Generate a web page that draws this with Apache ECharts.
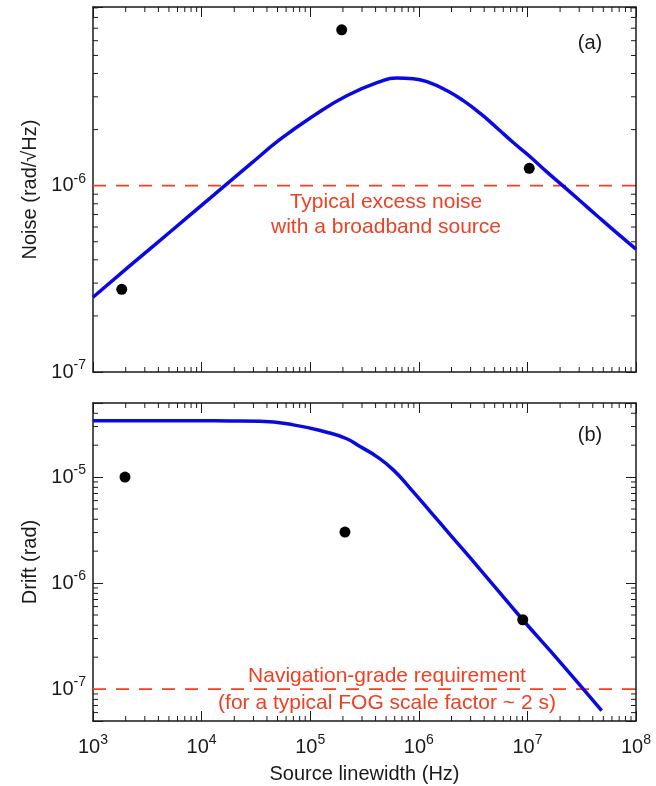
<!DOCTYPE html>
<html>
<head>
<meta charset="utf-8">
<script src="https://cdn.jsdelivr.net/npm/echarts@6/dist/echarts.min.js"></script>
<style>
html, body { margin: 0; padding: 0; background: #fff; }
#main { width: 656px; height: 786px; }
</style>
</head>
<body>
<div id="main"></div>
<script>
// (a) noise vs source linewidth
var noiseX = [1e3, 2.19e3, 5.12e3, 1.19e4, 2.79e4, 5.27e4, 1.07e5, 2.17e5, 4.4e5, 6.26e5, 8.9e5, 1.27e6, 1.81e6, 2.57e6, 3.66e6, 5.25e6, 7.36e6, 1.06e7, 1.5e7, 2.14e7, 3.05e7, 4.35e7, 6.41e7, 1e8];
var noiseY = [2.52e-7, 3.72e-7, 5.64e-7, 8.55e-7, 1.3e-6, 1.77e-6, 2.37e-6, 3.04e-6, 3.62e-6, 3.78e-6, 3.75e-6, 3.56e-6, 3.24e-6, 2.86e-6, 2.45e-6, 2.04e-6, 1.71e-6, 1.43e-6, 1.19e-6, 9.95e-7, 8.3e-7, 6.92e-7, 5.69e-7, 4.57e-7];
var noiseMeasX = [1.84e3, 1.95e5, 1.04e7];
var noiseMeasY = [2.78e-7, 6.86e-6, 1.24e-6];
var noiseLimit = 1e-6;

// (b) drift vs source linewidth
var driftX = [1e3, 3.35e3, 9.66e3, 1.83e4, 3.45e4, 6.98e4, 1.42e5, 2.17e5, 2.88e5, 4.1e5, 5.82e5, 8.29e5, 1.27e6, 1.94e6, 3.66e6, 9.06e6, 2.0e7, 4.83e7];
var driftY = [3.4e-5, 3.4e-5, 3.4e-5, 3.39e-5, 3.36e-5, 3.11e-5, 2.65e-5, 2.3e-5, 1.94e-5, 1.56e-5, 1.17e-5, 7.87e-6, 4.75e-6, 2.87e-6, 1.35e-6, 4.51e-7, 1.8e-7, 6.28e-8];
var driftMeasX = [1.97e3, 2.09e5, 9.06e6];
var driftMeasY = [1.0e-5, 3.03e-6, 4.51e-7];
var driftLimit = 1e-7;

// axis ranges
var xRange = [1e3, 1e8];
var noiseRange = [1e-7, 9.1e-6];
var driftRange = [5e-8, 5e-5];

var FONT = '"Liberation Sans", Helvetica, Arial, sans-serif';
var INK = '#1a1a1a';
var RED = '#ef4023';
var BLUE = '#0a0ae0';

function zip(a, b) {
    return a.map(function (v, i) { return [v, b[i]]; });
}

// label 10^n with superscript
function powLabel(v) {
    var e = Math.log10(v);
    if (Math.abs(e - Math.round(e)) > 1e-6) return '';
    return '{b|10}{s|' + Math.round(e) + '}';
}
var labelRich = {
    b: { fontSize: 20, fontFamily: FONT, color: INK, lineHeight: 28 },
    s: { fontSize: 14, fontFamily: FONT, color: INK, lineHeight: 14, verticalAlign: 'top' }
};

// minor ticks at 2..9 x 10^k inside a range
function minors(range) {
    var out = [];
    var lo = Math.floor(Math.log10(range[0])), hi = Math.ceil(Math.log10(range[1]));
    for (var e = lo; e <= hi; e++) {
        for (var m = 2; m <= 9; m++) {
            var v = m * Math.pow(10, e);
            if (v > range[0] * 1.0001 && v < range[1] * 0.9999) out.push(v);
        }
    }
    return out;
}

function tickData(xr, yr) {
    var d = [];
    minors(xr).forEach(function (v) { d.push([v, yr[0], 0]); });
    minors(yr).forEach(function (v) { d.push([xr[0], v, 1]); });
    return d;
}

function tickRender(xr, yr) {
    return function (params, api) {
        var len = 5;
        var st = { stroke: INK, lineWidth: 1 };
        var kind = api.value(2);
        var a, b;
        if (kind === 0) {
            a = api.coord([api.value(0), yr[0]]);
            b = api.coord([api.value(0), yr[1]]);
            return { type: 'group', children: [
                { type: 'line', shape: { x1: a[0], y1: a[1], x2: a[0], y2: a[1] - len }, style: st },
                { type: 'line', shape: { x1: b[0], y1: b[1], x2: b[0], y2: b[1] + len }, style: st }
            ] };
        }
        a = api.coord([xr[0], api.value(1)]);
        b = api.coord([xr[1], api.value(1)]);
        return { type: 'group', children: [
            { type: 'line', shape: { x1: a[0], y1: a[1], x2: a[0] + len, y2: a[1] }, style: st },
            { type: 'line', shape: { x1: b[0], y1: b[1], x2: b[0] - len, y2: b[1] }, style: st }
        ] };
    };
}

function xAxisOf(grid, pos, labelled) {
    return {
        type: 'log', logBase: 10, gridIndex: grid, position: pos,
        min: xRange[0], max: xRange[1],
        name: labelled ? 'Source linewidth (Hz)' : '',
        nameLocation: 'middle', nameGap: 43,
        nameTextStyle: { fontSize: 20, fontFamily: FONT, color: INK },
        axisLine: { show: true, lineStyle: { color: INK, width: 1.5 } },
        axisTick: { show: true, inside: true, length: 10, lineStyle: { color: INK, width: 1 } },
        axisLabel: { show: labelled, formatter: powLabel, rich: labelRich, margin: 12 },
        splitLine: { show: false }
    };
}

function yAxisOf(grid, pos, range, name) {
    return {
        type: 'log', logBase: 10, gridIndex: grid, position: pos,
        min: range[0], max: range[1],
        name: name || '',
        nameLocation: 'middle', nameGap: 51,
        nameTextStyle: { fontSize: 20, fontFamily: FONT, color: INK },
        axisLine: { show: true, lineStyle: { color: INK, width: 1.5 } },
        axisTick: { show: true, inside: true, length: 10, lineStyle: { color: INK, width: 1 } },
        axisLabel: { show: !!name, formatter: powLabel, rich: labelRich, margin: 7 },
        splitLine: { show: false }
    };
}

function limitSeries(xi, yi, level) {
    return {
        name: 'limit', type: 'line', xAxisIndex: xi, yAxisIndex: yi,
        data: [[xRange[0], level], [xRange[1], level]],
        showSymbol: false, silent: true,
        lineStyle: { color: RED, width: 1.8, type: [13, 10] },
        z: 2
    };
}

var chart = echarts.init(document.getElementById('main'));

var option = {
    animation: false,
    backgroundColor: '#fff',
    grid: [
        { left: 93, top: 7, width: 543, height: 365 },
        { left: 93, top: 403, width: 543, height: 318 }
    ],
    xAxis: [
        xAxisOf(0, 'bottom', false),
        xAxisOf(0, 'top', false),
        xAxisOf(1, 'bottom', true),
        xAxisOf(1, 'top', false)
    ],
    yAxis: [
        yAxisOf(0, 'left', noiseRange, 'Noise (rad/\u221AHz)'),
        yAxisOf(0, 'right', noiseRange, ''),
        yAxisOf(1, 'left', driftRange, 'Drift (rad)'),
        yAxisOf(1, 'right', driftRange, '')
    ],
    series: [
        {
            type: 'custom', xAxisIndex: 0, yAxisIndex: 0, silent: true, clip: false,
            renderItem: tickRender(xRange, noiseRange),
            data: tickData(xRange, noiseRange)
        },
        {
            type: 'custom', xAxisIndex: 2, yAxisIndex: 2, silent: true, clip: false,
            renderItem: tickRender(xRange, driftRange),
            data: tickData(xRange, driftRange)
        },
        limitSeries(0, 0, noiseLimit),
        limitSeries(2, 2, driftLimit),
        {
            name: 'noise model', type: 'line', xAxisIndex: 0, yAxisIndex: 0,
            data: zip(noiseX, noiseY), smooth: 0.5, showSymbol: false,
            lineStyle: { color: BLUE, width: 3.5 }, z: 3
        },
        {
            name: 'noise measured', type: 'scatter', xAxisIndex: 0, yAxisIndex: 0,
            data: zip(noiseMeasX, noiseMeasY), symbolSize: 11,
            itemStyle: { color: '#000', opacity: 1 }, z: 4
        },
        {
            name: 'drift model', type: 'line', xAxisIndex: 2, yAxisIndex: 2,
            data: zip(driftX, driftY), smooth: 0.5, showSymbol: false,
            lineStyle: { color: BLUE, width: 3.5 }, z: 3
        },
        {
            name: 'drift measured', type: 'scatter', xAxisIndex: 2, yAxisIndex: 2,
            data: zip(driftMeasX, driftMeasY), symbolSize: 11,
            itemStyle: { color: '#000', opacity: 1 }, z: 4
        }
    ],
    graphic: [
        {
            type: 'text', x: 386, y: 190, silent: true,
            style: {
                text: 'Typical excess noise\nwith a broadband source',
                align: 'center', verticalAlign: 'top', lineHeight: 25,
                fill: RED, fontSize: 21, fontFamily: FONT
            }
        },
        {
            type: 'text', x: 387, y: 663, silent: true,
            style: {
                text: 'Navigation-grade requirement\n(for a typical FOG scale factor ~ 2 s)',
                align: 'center', verticalAlign: 'top', lineHeight: 27,
                fill: RED, fontSize: 21, fontFamily: FONT
            }
        },
        {
            type: 'text', x: 590, y: 43, silent: true,
            style: { text: '(a)', align: 'center', verticalAlign: 'middle', fill: INK, fontSize: 20, fontFamily: FONT }
        },
        {
            type: 'text', x: 590, y: 435, silent: true,
            style: { text: '(b)', align: 'center', verticalAlign: 'middle', fill: INK, fontSize: 20, fontFamily: FONT }
        }
    ]
};

chart.setOption(option);
</script>
</body>
</html>
